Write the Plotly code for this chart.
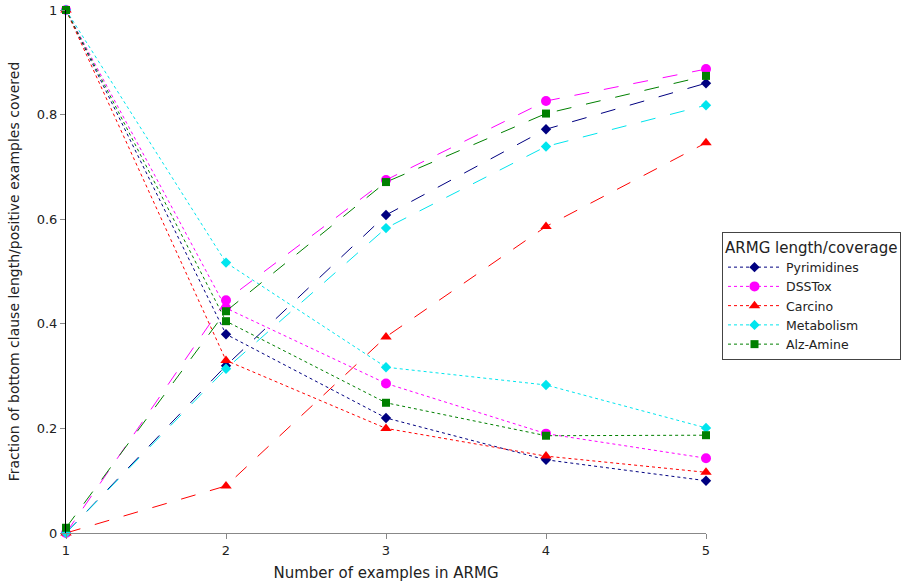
import plotly.graph_objects as go

x_vals = [1, 2, 3, 4, 5]
names = ["Pyrimidines", "DSSTox", "Carcino", "Metabolism", "Alz-Amine"]

length_pyrimidines = [1.0, 0.380, 0.220, 0.140, 0.100]
length_dsstox = [1.0, 0.430, 0.286, 0.190, 0.143]
length_carcino = [1.0, 0.330, 0.200, 0.147, 0.116]
length_metabolism = [1.0, 0.517, 0.317, 0.283, 0.201]
length_alzamine = [1.0, 0.405, 0.249, 0.186, 0.187]

coverage_pyrimidines = [0.0, 0.320, 0.608, 0.772, 0.860]
coverage_dsstox = [0.0, 0.445, 0.675, 0.826, 0.887]
coverage_carcino = [0.0, 0.090, 0.375, 0.586, 0.746]
coverage_metabolism = [0.0, 0.314, 0.583, 0.739, 0.818]
coverage_alzamine = [0.01, 0.424, 0.671, 0.802, 0.874]

y_tickvals = [0, 0.2, 0.4, 0.6, 0.8, 1]
y_ticktext = ["0", "0.2", "0.4", "0.6", "0.8", "1"]
x_tickvals = [1, 2, 3, 4, 5]
x_ticktext = ["1", "2", "3", "4", "5"]

lengths = [length_pyrimidines, length_dsstox, length_carcino, length_metabolism, length_alzamine]
coverages = [coverage_pyrimidines, coverage_dsstox, coverage_carcino, coverage_metabolism, coverage_alzamine]

colors = ["#000080", "#FF00FF", "#FF0000", "#00E5EE", "#008000"]
symbols = ["diamond", "circle", "triangle-up", "diamond", "square"]
sizes = [8, 10, 10, 8, 8]

fig = go.Figure()
for i, name in enumerate(names):
    fig.add_trace(go.Scatter(
        x=x_vals, y=lengths[i], name=name, mode="lines+markers",
        line=dict(color=colors[i], width=1, dash="dot"),
        marker=dict(symbol=symbols[i], size=sizes[i], color=colors[i]),
        cliponaxis=False, legendgroup=name,
    ))
    fig.add_trace(go.Scatter(
        x=x_vals, y=coverages[i], name=name, mode="lines+markers",
        line=dict(color=colors[i], width=1, dash="longdash"),
        marker=dict(symbol=symbols[i], size=sizes[i], color=colors[i]),
        cliponaxis=False, legendgroup=name, showlegend=False,
    ))

font_family = "DejaVu Sans"
fig.update_layout(
    width=916, height=582,
    margin=dict(l=66, r=210, t=10, b=49),
    plot_bgcolor="white", paper_bgcolor="white",
    font=dict(family=font_family, size=13, color="#222222"),
    legend=dict(
        x=1.025, y=0.5755, xanchor="left", yanchor="top",
        bordercolor="#444444", borderwidth=1,
        font=dict(size=12.5, color="#222222"),
        title=dict(text="ARMG length/coverage", font=dict(size=15)),
        tracegroupgap=0, itemwidth=53,
    ),
    xaxis=dict(
        range=[1, 5], tickvals=x_tickvals, ticktext=x_ticktext,
        showgrid=False, zeroline=False, showline=True, linecolor="#888888",
        ticks="outside", ticklen=5, tickcolor="#888888", automargin=False,
        ticklabeloverflow="allow",
        title=dict(text="Number of examples in ARMG", font=dict(size=15), standoff=11),
    ),
    yaxis=dict(
        range=[0, 1], tickvals=y_tickvals, ticktext=y_ticktext,
        showgrid=False, zeroline=False, showline=True, linecolor="#000000",
        ticks="outside", ticklen=5, tickcolor="#888888", automargin=False,
        ticklabeloverflow="allow",
        title=dict(text="Fraction of bottom clause length/positive examples covered", font=dict(size=14), standoff=13),
    ),
)

# remove the page's default 8px body margin so the figure fills the window exactly
fig.write_html(
    "out.html",
    config={"displayModeBar": False},
    post_script="document.body.style.margin='0';document.body.style.overflow='hidden';",
)
